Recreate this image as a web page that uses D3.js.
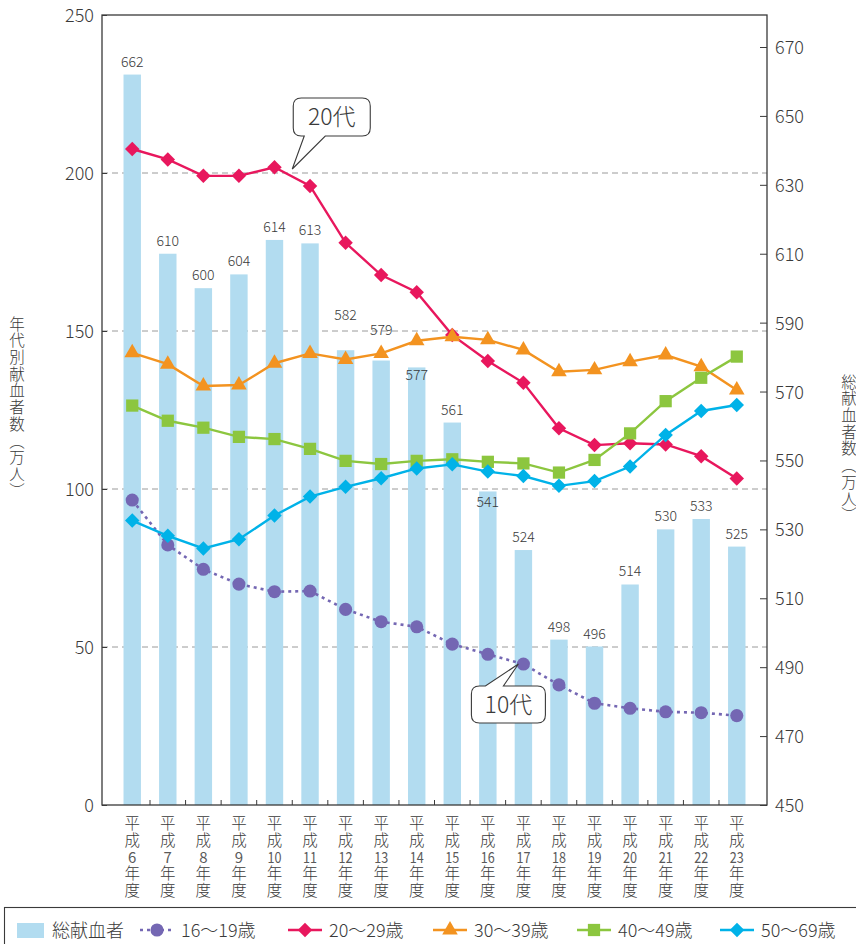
<!DOCTYPE html>
<html>
<head>
<meta charset="utf-8">
<script src="https://cdn.jsdelivr.net/npm/d3@7"></script>
<style>
  body { margin: 0; background: #fff; }
  svg text { font-family: "Noto Sans CJK JP", "Noto Sans", sans-serif; fill: #3a3a3a; }
  .vlabel { writing-mode: vertical-rl; text-orientation: upright; }
</style>
</head>
<body>
<svg width="856" height="944"></svg>
<script>
// 平成 fiscal years
var years = ['6','7','8','9','10','11','12','13','14','15','16','17','18','19','20','21','22','23'];
// total donors (万人, right axis)
var totalDonors = [662,610,600,604,614,613,582,579,577,561,541,524,498,496,514,530,533,525];
// donors by age group (万人, left axis)
var teens     = [96.5,82.3,74.6,69.9,67.5,67.7,61.9,58.0,56.4,50.9,47.7,44.6,38.0,32.2,30.6,29.5,29.2,28.3];
var twenties  = [207.6,204.3,199.1,199.1,201.8,195.9,177.9,167.7,162.3,148.7,140.5,133.6,119.2,113.9,114.5,114.1,110.4,103.3];
var thirties  = [143.1,139.5,132.6,132.9,139.8,142.9,141.0,142.9,146.9,148.2,147.2,144.0,137.1,137.7,140.3,142.4,138.7,131.3];
var forties   = [126.4,121.6,119.4,116.5,115.8,112.7,108.9,107.9,108.9,109.4,108.6,108.1,105.2,109.2,117.6,127.8,135.2,141.9];
var fifties   = [90.0,85.2,81.2,84.1,91.6,97.6,100.7,103.4,106.5,107.8,105.5,104.1,101.0,102.5,107.1,117.1,124.7,126.6];
var leftTicks = [0,50,100,150,200,250];
var rightTicks = [450,470,490,510,530,550,570,590,610,630,650,670];

var svg = d3.select('svg'),
    plotLeft = 102, plotRight = 767, plotTop = 15, plotBottom = 805;

var x = d3.scaleBand().domain(years).range([plotLeft, plotRight]).paddingInner(0).paddingOuter(0.35);
var yL = d3.scaleLinear().domain([0, 250]).range([plotBottom, plotTop]);
var yR = d3.scaleLinear().domain([450, 670]).range([plotBottom, 47]);
var cx = function(d) { return x(d) + x.bandwidth() / 2; };

// grid
svg.append('g').selectAll('line')
  .data([50, 100, 150, 200])
  .enter().append('line')
  .attr('x1', plotLeft).attr('x2', plotRight)
  .attr('y1', function(d) { return yL(d); })
  .attr('y2', function(d) { return yL(d); })
  .attr('stroke', '#9a9a9a').attr('stroke-width', 1).attr('stroke-dasharray', '6,4');

// bars
var barW = x.bandwidth() * 0.49;
svg.append('g').selectAll('rect')
  .data(totalDonors)
  .enter().append('rect')
  .attr('x', function(d, i) { return cx(years[i]) - barW / 2; })
  .attr('y', function(d) { return yR(d); })
  .attr('width', barW)
  .attr('height', function(d) { return plotBottom - yR(d); })
  .attr('fill', '#b2dcf0');

// bar labels (a few are moved to keep clear of the lines)
var labelShift = {'12': -22, '13': -18, '14': 21, '16': 24};
svg.append('g').selectAll('text')
  .data(totalDonors)
  .enter().append('text')
  .attr('x', function(d, i) { return cx(years[i]); })
  .attr('y', function(d, i) { return yR(d) - 8 + (labelShift[years[i]] || 0); })
  .attr('text-anchor', 'middle')
  .attr('font-size', 14)
  .attr('font-weight', 300)
  .text(function(d) { return d; });

// frame
svg.append('rect')
  .attr('x', plotLeft).attr('y', plotTop)
  .attr('width', plotRight - plotLeft).attr('height', plotBottom - plotTop)
  .attr('fill', 'none').attr('stroke', '#3a3a3a').attr('stroke-width', 1.3);

// axes
var gl = svg.append('g')
  .attr('transform', 'translate(' + plotLeft + ',0)')
  .call(d3.axisLeft(yL).tickValues(leftTicks).tickSize(-5).tickPadding(8));
var gr = svg.append('g')
  .attr('transform', 'translate(' + plotRight + ',0)')
  .call(d3.axisRight(yR).tickValues(rightTicks).tickSize(-7).tickPadding(8));
[gl, gr].forEach(function(g) {
  g.select('.domain').remove();
  g.selectAll('line').attr('stroke', '#3a3a3a');
  g.selectAll('text').attr('font-size', 18).attr('font-weight', 300)
    .attr('font-family', null).attr('fill', null).attr('dy', '0.36em');
});

// x ticks between categories
svg.append('g').selectAll('line')
  .data(years.slice(1))
  .enter().append('line')
  .attr('x1', function(d) { return x(d); })
  .attr('x2', function(d) { return x(d); })
  .attr('y1', plotBottom).attr('y2', plotBottom - 5)
  .attr('stroke', '#3a3a3a');

// x labels: 平成 / number / 年度 stacked
var rowStep = 16.9, labelTop = 815;
years.forEach(function(yr) {
  var g = svg.append('g');
  g.append('text')
    .attr('class', 'vlabel')
    .attr('x', cx(yr)).attr('y', labelTop)
    .attr('font-size', 15.5).attr('font-weight', 300).attr('letter-spacing', 1.4)
    .text('平成');
  var n = g.append('text')
    .attr('x', cx(yr)).attr('y', labelTop + 2.5 * rowStep + 5.5)
    .attr('text-anchor', 'middle')
    .attr('font-family', '"Liberation Sans", sans-serif')
    .attr('font-size', 15)
    .style('fill', '#5a5a5a')
    .text(yr);
  if (yr.length > 1) n.attr('textLength', 14).attr('lengthAdjust', 'spacingAndGlyphs');
  g.append('text')
    .attr('class', 'vlabel')
    .attr('x', cx(yr)).attr('y', labelTop + 3 * rowStep)
    .attr('font-size', 15.5).attr('font-weight', 300).attr('letter-spacing', 1.4)
    .text('年度');
});

// axis titles, vertical writing
function vertical(str, px, py) {
  svg.append('text')
    .attr('x', px).attr('y', py)
    .style('writing-mode', 'vertical-rl')
    .attr('font-size', 15.5)
    .attr('font-weight', 300)
    .attr('letter-spacing', 1.2)
    .text(str);
}
vertical('年代別献血者数（万人）', 17, 316);
vertical('総献血者数（万人）', 849, 374);

// series
var series = [
  {name: '16〜19歳', values: teens, color: '#7467b3', marker: 'circle', dash: '3,4'},
  {name: '20〜29歳', values: twenties, color: '#e8175d', marker: 'diamond'},
  {name: '30〜39歳', values: thirties, color: '#f39320', marker: 'triangle'},
  {name: '40〜49歳', values: forties, color: '#8cc63f', marker: 'square'},
  {name: '50〜69歳', values: fifties, color: '#00b2e8', marker: 'diamond'}
];

function symbolPath(type) {
  if (type === 'circle') return d3.symbol(d3.symbolCircle, 135)();
  if (type === 'triangle') return d3.symbol(d3.symbolTriangle, 105)();
  if (type === 'square') return d3.symbol(d3.symbolSquare, 150)();
  return d3.symbol(d3.symbolSquare, 105)();
}
function symbolTransform(type, px, py) {
  return 'translate(' + px + ',' + py + ')' + (type === 'diamond' ? ' rotate(45)' : '');
}

var line = d3.line()
  .x(function(d, i) { return cx(years[i]); })
  .y(function(d) { return yL(d); });

series.forEach(function(s) {
  svg.append('path')
    .datum(s.values)
    .attr('d', line)
    .attr('fill', 'none')
    .attr('stroke', s.color)
    .attr('stroke-width', s.dash ? 2.6 : 2.4)
    .attr('stroke-dasharray', s.dash || null);
  svg.append('g').selectAll('path')
    .data(s.values)
    .enter().append('path')
    .attr('d', symbolPath(s.marker))
    .attr('transform', function(d, i) { return symbolTransform(s.marker, cx(years[i]), yL(d)); })
    .attr('fill', s.color);
});

// callouts
function callout(label, bx, by, w, h, tip, p1, p2, onTop) {
  var r = 8, p;
  if (onTop) {
    p = 'M' + (bx + r) + ',' + by + 'H' + p1 + 'L' + tip[0] + ',' + tip[1] + 'L' + p2 + ',' + by +
        'H' + (bx + w - r) + 'Q' + (bx + w) + ',' + by + ' ' + (bx + w) + ',' + (by + r) +
        'V' + (by + h - r) + 'Q' + (bx + w) + ',' + (by + h) + ' ' + (bx + w - r) + ',' + (by + h) +
        'H' + (bx + r) + 'Q' + bx + ',' + (by + h) + ' ' + bx + ',' + (by + h - r) +
        'V' + (by + r) + 'Q' + bx + ',' + by + ' ' + (bx + r) + ',' + by + 'Z';
  } else {
    p = 'M' + (bx + r) + ',' + by + 'H' + (bx + w - r) + 'Q' + (bx + w) + ',' + by + ' ' + (bx + w) + ',' + (by + r) +
        'V' + (by + h - r) + 'Q' + (bx + w) + ',' + (by + h) + ' ' + (bx + w - r) + ',' + (by + h) +
        'H' + p2 + 'L' + tip[0] + ',' + tip[1] + 'L' + p1 + ',' + (by + h) +
        'H' + (bx + r) + 'Q' + bx + ',' + (by + h) + ' ' + bx + ',' + (by + h - r) +
        'V' + (by + r) + 'Q' + bx + ',' + by + ' ' + (bx + r) + ',' + by + 'Z';
  }
  svg.append('path').attr('d', p).attr('fill', '#fff').attr('stroke', '#3a3a3a').attr('stroke-width', 1.1);
  svg.append('text')
    .attr('x', bx + w / 2).attr('y', by + h / 2 + 8)
    .attr('text-anchor', 'middle')
    .attr('font-size', 23)
    .attr('font-weight', 300)
    .text(label);
}
var tip20 = [(cx('10') + cx('11')) / 2, yL(200) - 4];
callout('20代', tip20[0] + 1, tip20[1] - 71, 77, 38, tip20, tip20[0] + 12, tip20[0] + 33, false);
var tip10 = [cx('17') - 5, yL(teens[11])];
callout('10代', tip10[0] - 47, tip10[1] + 22, 74, 37, tip10, tip10[0] - 33, tip10[0] - 15, true);

// legend
svg.append('rect')
  .attr('x', 4.5).attr('y', 907.5).attr('width', 900).attr('height', 60)
  .attr('fill', 'none').attr('stroke', '#3a3a3a').attr('stroke-width', 1.1);
var lg = svg.append('g');
lg.append('rect').attr('x', 17).attr('y', 923).attr('width', 27).attr('height', 15).attr('fill', '#b2dcf0');
lg.append('text').attr('x', 52).attr('y', 937).attr('font-size', 18).attr('font-weight', 300).text('総献血者');
var legendX = [140, 288, 433, 577, 720];
series.forEach(function(s, i) {
  var lx = legendX[i];
  lg.append('line')
    .attr('x1', lx).attr('x2', lx + 34).attr('y1', 930).attr('y2', 930)
    .attr('stroke', s.color).attr('stroke-width', 2.4)
    .attr('stroke-dasharray', s.dash || null);
  lg.append('path')
    .attr('d', symbolPath(s.marker))
    .attr('transform', symbolTransform(s.marker, lx + 17, 930))
    .attr('fill', s.color);
  lg.append('text').attr('x', lx + 41).attr('y', 937).attr('font-size', 18).attr('font-weight', 300).text(s.name);
});
</script>
</body>
</html>
